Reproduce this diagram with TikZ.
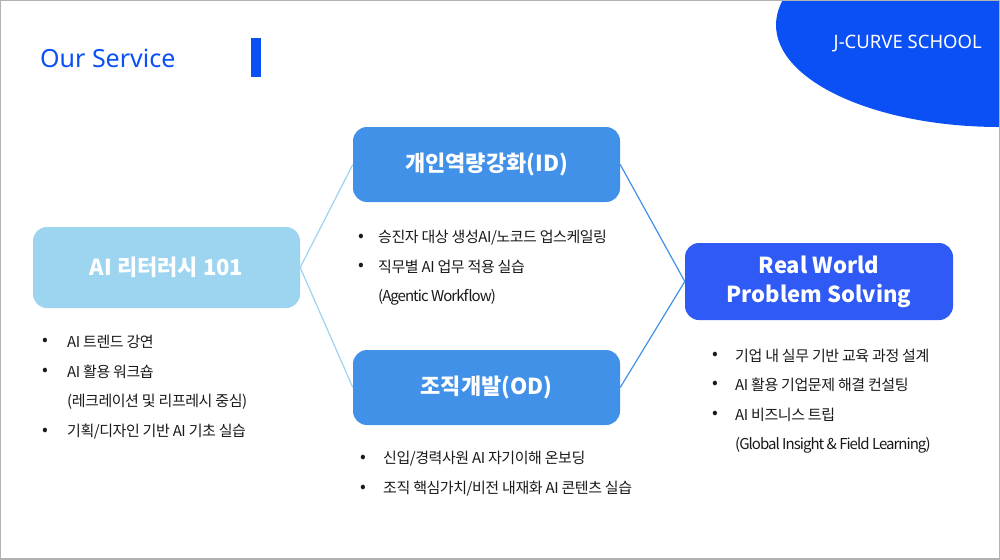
\documentclass[tikz,border=0pt]{standalone}
\usepackage{fontspec}
\setmainfont{Noto Sans CJK KR}
\newfontfamily\latinfont{Noto Sans}
\newfontfamily\itemfont{Noto Sans CJK KR}[LetterSpace=-3]
\newfontfamily\itemtightfont{Noto Sans CJK KR}[LetterSpace=-6.5]
\definecolor{brand}{HTML}{0A50F5}
\definecolor{lightb}{HTML}{9DD4EF}
\definecolor{midb}{HTML}{4191E9}
\definecolor{rwb}{HTML}{2F5AF6}
\definecolor{txt}{HTML}{1A1A1A}
\begin{document}
\begin{tikzpicture}[x=1pt,y=-1pt,
 box/.style={rounded corners=14pt, minimum width=267pt, text=white, font=\bfseries\fontsize{22}{29}\selectfont, inner sep=0pt, align=center},
 item/.style={anchor=west, inner sep=0pt, text=txt, font=\itemfont\fontsize{15}{18}\selectfont},
 itemlatin/.style={item, font=\itemtightfont\fontsize{15}{18}\selectfont},
 dot/.style={inner sep=0pt, text=txt, font=\fontsize{17}{18}\selectfont},
 lconn/.style={draw=lightb, line width=1.2pt},
 rconn/.style={draw=midb, line width=1.2pt}]
\useasboundingbox (0,0) rectangle (1000,559);
\fill[white] (0,0) rectangle (1000,559);
\begin{scope}
\clip (0,0) rectangle (1000,559);
\fill[brand] (1000,25) ellipse [x radius=224pt, y radius=102pt];
\end{scope}
\draw[gray!60, line width=1.5pt] (0,0) rectangle (1000,559);

\node[anchor=west, text=brand, font=\latinfont\fontsize{25}{30}\selectfont, inner sep=0pt] (title) at (40,58) {Our Service};
\node[fill=brand, minimum width=10pt, minimum height=39pt, inner sep=0pt] (bar) at (256,57.5) {};
\node[anchor=east, text=white, font=\latinfont\fontsize{18.5}{22}\selectfont, inner sep=0pt] (school) at (982,44) {J-CURVE SCHOOL};

\node[box, fill=lightb, minimum height=81pt] (lit) at (166.5,267.5) {AI 리터러시 101};
\node[box, fill=midb, minimum height=75pt] (id) at (486.5,164.5) {개인역량강화(ID)};
\node[box, fill=midb, minimum height=75pt] (od) at (486.5,387.5) {조직개발(OD)};
\node[box, fill=rwb, minimum height=77pt, minimum width=268pt] (rw) at (819,281.5) {Real World\\Problem Solving};

\draw[lconn] (lit.east) -- (id.west);
\draw[lconn] (lit.east) -- (od.west);
\draw[rconn] (id.east) -- (rw.west);
\draw[rconn] (od.east) -- (rw.west);

% AI literacy list
\node[dot] (a1d) at (45,342) {•};
\node[item] (a1) at (67,342) {AI 트렌드 강연};
\node[dot] (a2d) at (45,372) {•};
\node[item] (a2) at (67,372) {AI 활용 워크숍};
\node[item] (a3) at (67,402) {(레크레이션 및 리프레시 중심)};
\node[dot] (a4d) at (45,432) {•};
\node[item] (a4) at (67,432) {기획/디자인 기반 AI 기초 실습};

% ID list
\node[dot] (i1d) at (361,238) {•};
\node[item] (i1) at (378,238) {승진자 대상 생성AI/노코드 업스케일링};
\node[dot] (i2d) at (361,267) {•};
\node[item] (i2) at (378,267) {직무별 AI 업무 적용 실습};
\node[itemlatin] (i3) at (378,297) {(Agentic Workflow)};

% OD list
\node[dot] (o1d) at (363,459) {•};
\node[item] (o1) at (383,459) {신입/경력사원 AI 자기이해 온보딩};
\node[dot] (o2d) at (363,489) {•};
\node[item] (o2) at (383,489) {조직 핵심가치/비전 내재화 AI 콘텐츠 실습};

% RW list
\node[dot] (r1d) at (715,356) {•};
\node[item] (r1) at (735,356) {기업 내 실무 기반 교육 과정 설계};
\node[dot] (r2d) at (715,385) {•};
\node[item] (r2) at (735,385) {AI 활용 기업문제 해결 컨설팅};
\node[dot] (r3d) at (715,415) {•};
\node[item] (r3) at (735,415) {AI 비즈니스 트립};
\node[itemlatin] (r4) at (735,445) {(Global Insight \& Field Learning)};
\end{tikzpicture}
\end{document}
